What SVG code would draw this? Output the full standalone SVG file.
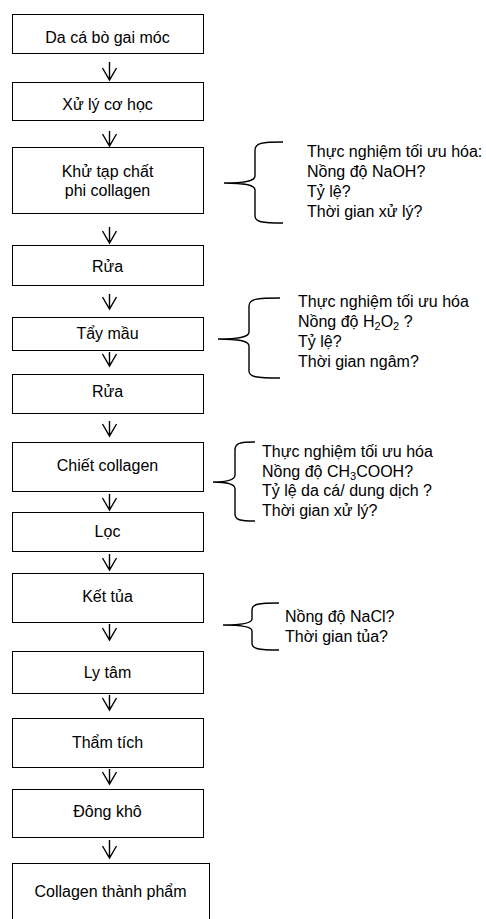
<svg xmlns="http://www.w3.org/2000/svg" width="486" height="919" viewBox="0 0 486 919">
<style>
  .box rect { fill: #fff; stroke: #000; stroke-width: 1; }
  text { font-family: "Liberation Sans", Arial, sans-serif; font-size: 16px; fill: #000; }
  .c { text-anchor: middle; }
  .arr { fill: none; stroke: #000; stroke-width: 1.4; }
  .brace { fill: none; stroke: #000; stroke-width: 1.4; }
  .sub { font-size: 11px; }
</style>
<rect width="486" height="919" fill="#fff"/>

<g id="n1" class="box"><rect x="12.5" y="14.5" width="191" height="39"/><text class="c" x="107.5" y="43">Da cá bò gai móc</text></g>
<g id="n2" class="box"><rect x="12.5" y="82.5" width="191" height="38"/><text class="c" x="107.5" y="110">Xử lý cơ học</text></g>
<g id="n3" class="box"><rect x="12.5" y="147.5" width="191" height="66"/><text class="c" x="107.5" y="177">Khử tạp chất</text><text class="c" x="107.5" y="196">phi collagen</text></g>
<g id="n4" class="box"><rect x="12.5" y="245.5" width="191" height="40"/><text class="c" x="107.5" y="272">Rửa</text></g>
<g id="n5" class="box"><rect x="12.5" y="317.5" width="191" height="33"/><text class="c" x="107.5" y="339">Tẩy mầu</text></g>
<g id="n6" class="box"><rect x="12.5" y="374.5" width="191" height="39"/><text class="c" x="107.5" y="397">Rửa</text></g>
<g id="n7" class="box"><rect x="12.5" y="442.5" width="191" height="49"/><text class="c" x="107.5" y="471">Chiết collagen</text></g>
<g id="n8" class="box"><rect x="12.5" y="512.5" width="191" height="39"/><text class="c" x="107.5" y="537">Lọc</text></g>
<g id="n9" class="box"><rect x="12.5" y="573.5" width="191" height="49"/><text class="c" x="107.5" y="602">Kết tủa</text></g>
<g id="n10" class="box"><rect x="12.5" y="651.5" width="191" height="42"/><text class="c" x="107.5" y="678">Ly tâm</text></g>
<g id="n11" class="box"><rect x="12.5" y="718.5" width="191" height="49"/><text class="c" x="107.5" y="748">Thẩm tích</text></g>
<g id="n12" class="box"><rect x="12.5" y="789.5" width="191" height="48"/><text class="c" x="107.5" y="817">Đông khô</text></g>
<g id="n13" class="box"><rect x="12.5" y="863.5" width="197" height="70"/><text class="c" x="110.5" y="897">Collagen thành phẩm</text></g>

<g id="connectors" class="arr">
  <path d="M109.5,62 V80 M102.5,68 L109.5,80 L116.5,68"/>
  <path d="M109.5,131 V146 M102.5,134 L109.5,146 L116.5,134"/>
  <path d="M109.5,227 V243 M102.5,231 L109.5,243 L116.5,231"/>
  <path d="M109.5,294 V309 M102.5,297 L109.5,309 L116.5,297"/>
  <path d="M109.5,352 V366 M102.5,354 L109.5,366 L116.5,354"/>
  <path d="M109.5,421 V436 M102.5,424 L109.5,436 L116.5,424"/>
  <path d="M109.5,494 V510 M102.5,498 L109.5,510 L116.5,498"/>
  <path d="M109.5,554 V570 M102.5,558 L109.5,570 L116.5,558"/>
  <path d="M109.5,624 V640 M102.5,628 L109.5,640 L116.5,628"/>
  <path d="M109.5,695 V710 M102.5,698 L109.5,710 L116.5,698"/>
  <path d="M109.5,769 V784 M102.5,772 L109.5,784 L116.5,772"/>
  <path d="M109.5,840 V858 M102.5,846 L109.5,858 L116.5,846"/>
</g>

<g id="note1">
  <path class="brace" d="M283,142 C262,142 255,143 255,150 L255,176 C255,181 246,183 224,183 C246,183 255,185 255,190 L255,216 C255,222 262,223 283,223"/>
  <text x="307" y="157">Thực nghiệm tối ưu hóa:</text>
  <text x="307" y="177">Nồng độ NaOH?</text>
  <text x="307" y="197">Tỷ lệ?</text>
  <text x="307" y="217">Thời gian xử lý?</text>
</g>

<g id="note2">
  <path class="brace" d="M280,298 C256,298 249,299 249,306 L249,332 C249,337 240,339 218,339 C240,339 249,341 249,346 L249,371 C249,377 256,378 280,378"/>
  <text x="298" y="307">Thực nghiệm tối ưu hóa</text>
  <text x="298" y="327">Nồng độ H<tspan class="sub" dy="3">2</tspan><tspan dy="-3">O</tspan><tspan class="sub" dy="3">2</tspan><tspan dy="-3"> ?</tspan></text>
  <text x="298" y="347">Tỷ lệ?</text>
  <text x="298" y="367">Thời gian ngâm?</text>
</g>

<g id="note3">
  <path class="brace" d="M255,442 C240,442 235,443 235,450 L235,475 C235,480 228,482 213,482 C228,482 235,484 235,489 L235,514 C235,520 240,521 255,521"/>
  <text x="262" y="457">Thực nghiệm tối ưu hóa</text>
  <text x="262" y="477">Nồng độ CH<tspan class="sub" dy="3">3</tspan><tspan dy="-3">COOH?</tspan></text>
  <text x="262" y="496">Tỷ lệ da cá/ dung dịch ?</text>
  <text x="262" y="516">Thời gian xử lý?</text>
</g>

<g id="note4">
  <path class="brace" d="M279,603 C258,603 252,604 252,610 L252,619 C252,623 244,625 223,625 C244,625 252,627 252,631 L252,643 C252,649 258,650 279,650"/>
  <text x="285" y="622">Nồng độ NaCl?</text>
  <text x="285" y="642">Thời gian tủa?</text>
</g>
</svg>
